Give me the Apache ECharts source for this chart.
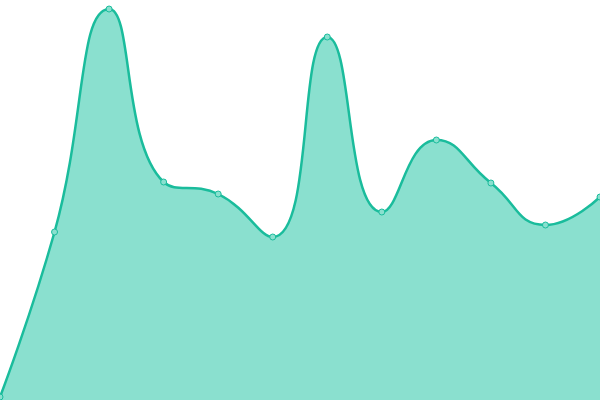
<!DOCTYPE html>
<html><head><meta charset="utf-8">
<script src="https://cdn.jsdelivr.net/npm/echarts@6/dist/echarts.min.js"></script>
<style>html,body{margin:0;padding:0;background:#fff}#c{width:600px;height:400px}</style>
</head><body><div id="c"></div>
<script>
const categories = ['1','2','3','4','5','6','7','8','9','10','11','12'];
const values = [3, 168, 391, 218, 206, 163, 363, 188, 260, 217, 175, 203];
const chart = echarts.init(document.getElementById('c'));
chart.setOption({
  animation: false,
  grid: {left: 0, right: 0, top: 0, bottom: 0},
  xAxis: {type: 'category', data: categories, boundaryGap: false, show: false},
  yAxis: {type: 'value', min: 0, max: 400, show: false},
  series: [{
    type: 'line', data: values, smooth: true,
    symbol: 'circle', symbolSize: 6,
    lineStyle: {color: '#1abc9c', width: 2.5},
    itemStyle: {color: '#8ae0cf', borderColor: '#1abc9c', borderWidth: 1},
    areaStyle: {color: '#8ae0cf', opacity: 1}
  }]
});
</script></body></html>
